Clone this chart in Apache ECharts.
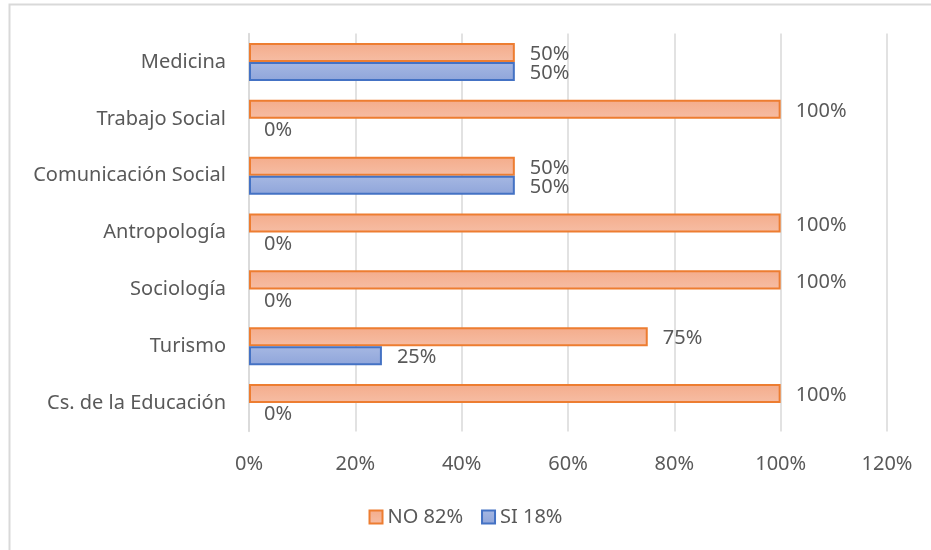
<!DOCTYPE html>
<html>
<head>
<meta charset="utf-8">
<script src="https://cdn.jsdelivr.net/npm/echarts@6/dist/echarts.min.js"></script>
<style>
  html, body { margin: 0; padding: 0; background: #fff; }
  #chart { width: 931px; height: 550px; }
</style>
</head>
<body>
<div id="chart"></div>
<script>
// Careers, top to bottom
const categories = ['Medicina', 'Trabajo Social', 'Comunicación Social', 'Antropología', 'Sociología', 'Turismo', 'Cs. de la Educación'];
// Percentage answering NO / SI in each career
const noValues = [50, 100, 50, 100, 100, 75, 100];
const siValues = [50, 0, 50, 0, 0, 25, 0];
const seriesNames = ['NO 82%', 'SI 18%'];
const xTicks = { min: 0, max: 120, step: 20 };

const textColor = '#595959';
const fontFamily = '"Noto Sans", "Open Sans", sans-serif';
const fontSize = 20;

function grad(top, bottom) {
  return new echarts.graphic.LinearGradient(0, 0, 0, 1, [
    { offset: 0, color: top },
    { offset: 1, color: bottom }
  ]);
}

const noFill = grad('#f4ac8b', '#f6bda4');
const siFill = grad('#a6b8e3', '#8fa5da');

// zero-length bars get no outline so nothing shows for them
function withOutline(values) {
  return values.map(v => ({ value: v, itemStyle: { borderWidth: v === 0 ? 0 : 2 } }));
}

const chart = echarts.init(document.getElementById('chart'), null, { renderer: 'canvas' });

const labelStyle = {
  show: true,
  position: 'right',
  distance: 15,
  offset: [0, 2],
  formatter: '{c}%',
  color: textColor,
  fontSize: fontSize,
  fontFamily: fontFamily
};

chart.setOption({
  animation: false,
  backgroundColor: '#fff',
  textStyle: { fontFamily: fontFamily },
  graphic: [{
    type: 'rect',
    shape: { x: 9.5, y: 4.5, width: 1000, height: 1000 },
    style: { fill: 'none', stroke: '#d9d9d9', lineWidth: 2 },
    silent: true,
    z: -1
  }],
  grid: { left: 249, right: 44, top: 33.6, bottom: 118.5, containLabel: false },
  legend: {
    data: seriesNames,
    bottom: 18,
    left: 'center',
    itemWidth: 13,
    itemHeight: 13,
    itemGap: 18,
    icon: 'rect',
    textStyle: { color: textColor, fontSize: fontSize, fontFamily: fontFamily }
  },
  xAxis: {
    type: 'value',
    min: xTicks.min,
    max: xTicks.max,
    interval: xTicks.step,
    axisLine: { show: false },
    axisTick: { show: false },
    axisLabel: { formatter: '{value}%', color: textColor, fontSize: fontSize, margin: 23, fontFamily: fontFamily },
    splitLine: { show: true, lineStyle: { color: '#d9d9d9', width: 1.5 } }
  },
  yAxis: {
    type: 'category',
    data: categories,
    inverse: true,
    axisLine: { show: true, lineStyle: { color: '#d9d9d9', width: 1.5 } },
    axisTick: { show: false },
    axisLabel: { color: textColor, fontSize: fontSize, margin: 23, fontFamily: fontFamily },
    splitLine: { show: false }
  },
  series: [
    {
      name: seriesNames[0],
      type: 'bar',
      data: withOutline(noValues),
      barGap: '0%',
      barCategoryGap: '33%',
      itemStyle: { color: noFill, borderColor: '#ed7d31', borderWidth: 2 },
      label: labelStyle
    },
    {
      name: seriesNames[1],
      type: 'bar',
      data: withOutline(siValues),
      itemStyle: { color: siFill, borderColor: '#4472c4', borderWidth: 2 },
      label: labelStyle
    }
  ]
});
</script>
</body>
</html>
